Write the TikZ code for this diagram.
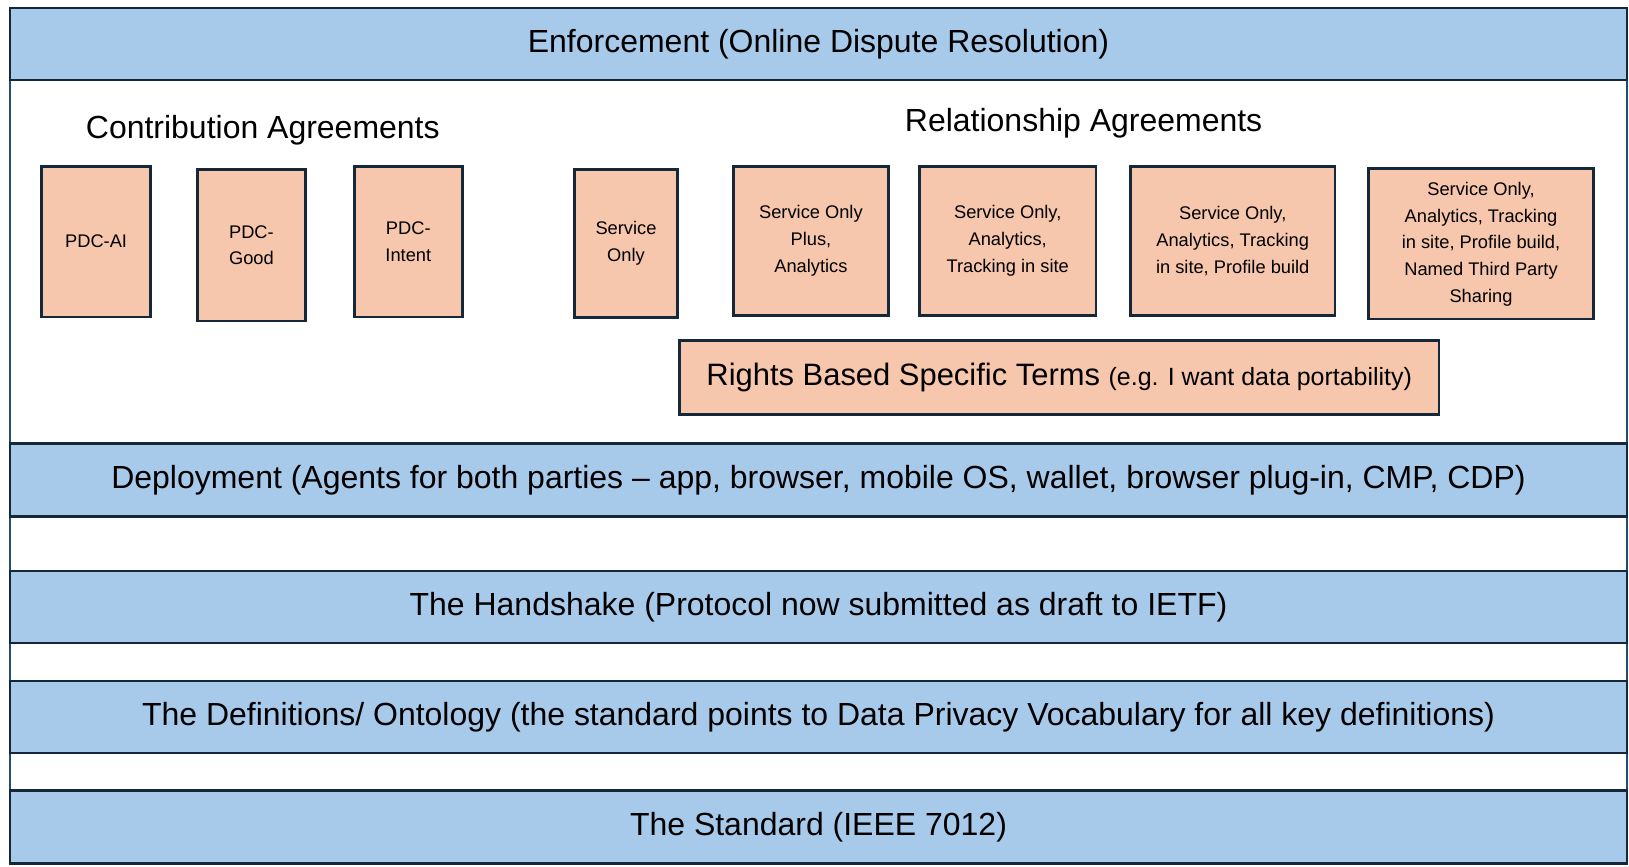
\documentclass[tikz,border=0pt]{standalone}
\usepackage{fontspec}
\setmainfont{Liberation Sans}
\usetikzlibrary{positioning}

\definecolor{bandblue}{HTML}{A7C9EA}
\definecolor{termpeach}{HTML}{F6C6AD}
\definecolor{edgenavy}{HTML}{14283A}
\definecolor{framenavy}{HTML}{1F4E6E}

\tikzset{
	layer/.style={draw=edgenavy, fill=bandblue, line width=0.8pt, minimum width=16.17cm, minimum height=0.72cm, inner sep=0pt, font=\fontsize{9.1}{11}\selectfont},
	termbox/.style={draw=edgenavy, fill=termpeach, line width=0.8pt, inner sep=0pt, align=center, font=\fontsize{5.2}{7.6}\selectfont},
	heading/.style={font=\fontsize{9.1}{11}\selectfont}
}

\begin{document}
\begin{tikzpicture}
		\useasboundingbox (0,0) rectangle (16.29,8.67);
		
		% Outer frame
		\draw[framenavy, line width=0.8pt, fill=white] (0.10,0.03) rectangle (16.27,8.59);
		
		% Layers
		\node[layer] (enforce) at (8.185,8.23) {Enforcement (Online Dispute Resolution)};
		\node[layer, minimum height=0.73cm] (deploy) at (8.185,3.87) {Deployment (Agents for both parties -- app, browser, mobile OS, wallet, browser plug-in, CMP, CDP)};
		\node[layer] (handshake) at (8.185,2.60) {The Handshake (Protocol now submitted as draft to IETF)};
		\node[layer] (defs) at (8.185,1.50) {The Definitions/ Ontology (the standard points to Data Privacy Vocabulary for all key definitions)};
		\node[layer, minimum height=0.735cm] (standard) at (8.185,0.40) {The Standard (IEEE 7012)};
		
		% Contribution agreements
		\node[heading] (contrib) at (2.628,7.371) {Contribution Agreements};
		\node[termbox, minimum width=1.09cm, minimum height=1.507cm] (pdcai) at (0.961,6.254) {PDC-AI};
		\node[termbox, minimum width=1.08cm, minimum height=1.517cm] (pdcgood) at (2.514,6.218) {PDC-\\Good};
		\node[termbox, minimum width=1.08cm, minimum height=1.507cm] (pdcintent) at (4.083,6.254) {PDC-\\Intent};
		
		% Relationship agreements
		\node[heading] (relation) at (10.836,7.434) {Relationship Agreements};
		\node[termbox, minimum width=1.029cm, minimum height=1.486cm] (svconly) at (6.260,6.234) {Service\\Only};
		\node[termbox, minimum width=1.548cm, minimum height=1.496cm] (svcplus) at (8.109,6.260) {Service Only\\Plus,\\Analytics};
		\node[termbox, minimum width=1.766cm, minimum height=1.496cm] (svctrack) at (10.077,6.260) {Service Only,\\Analytics,\\Tracking in site};
		\node[termbox, minimum width=2.047cm, minimum height=1.496cm] (svcprofile) at (12.327,6.260) {Service Only,\\Analytics, Tracking\\in site, Profile build};
		\node[termbox, minimum width=2.255cm, minimum height=1.507cm] (svcshare) at (14.810,6.234) {\raisebox{0.12cm}{\begin{tabular}{@{}c@{}}Service Only,\\Analytics, Tracking\\in site, Profile build,\\Named Third Party\\Sharing\end{tabular}}};
		
		% Rights based terms
		\node[termbox, minimum width=7.595cm, minimum height=0.737cm, font=\fontsize{8.8}{10}\selectfont] (rights) at (10.592,4.894) {Rights Based Specific Terms {\fontsize{7.1}{9}\selectfont (e.g. I want data portability)}};
	\end{tikzpicture}
\end{document}
